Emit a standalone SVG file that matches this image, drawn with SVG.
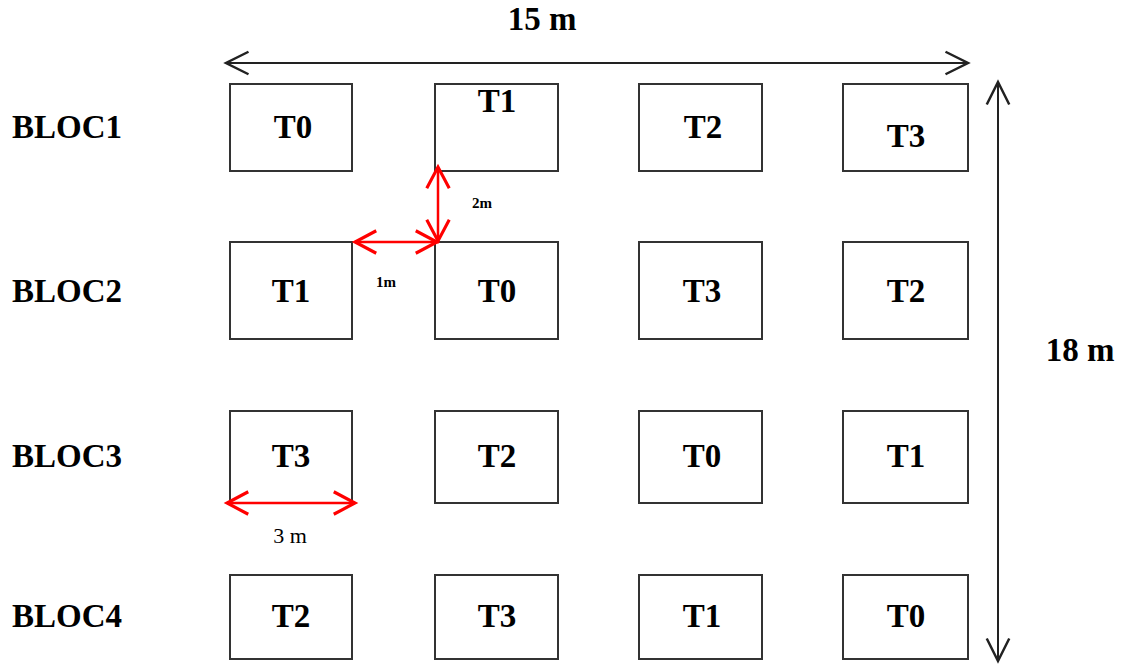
<svg xmlns="http://www.w3.org/2000/svg" width="1121" height="664" viewBox="0 0 1121 664">
<style>
.box{fill:#fff;stroke:#333;stroke-width:2}
.t{font-family:"Liberation Serif","Times New Roman",serif;font-weight:bold;font-size:33px;fill:#000;text-anchor:middle}
.bl{font-family:"Liberation Serif","Times New Roman",serif;font-weight:bold;font-size:33px;fill:#000}
.dim{stroke:#222;stroke-width:2;fill:none}
.red{stroke:#f00;stroke-width:2.5;fill:none}
.sm{font-family:"Liberation Serif","Times New Roman",serif;font-weight:bold;font-size:15px;fill:#000}
.nm{font-family:"Liberation Serif","Times New Roman",serif;font-size:22px;fill:#000;text-anchor:middle}
</style>
<defs>
<marker id="ak" markerUnits="userSpaceOnUse" markerWidth="30" markerHeight="30" viewBox="-22 -12 24 24" refX="0" refY="0" orient="auto-start-reverse" overflow="visible"><path d="M-18,-9 L0,0 L-18,9" fill="none" stroke="#222" stroke-width="2"/></marker>
<marker id="ar" markerUnits="userSpaceOnUse" markerWidth="30" markerHeight="30" viewBox="-22 -12 24 24" refX="0" refY="0" orient="auto-start-reverse" overflow="visible"><path d="M-17,-9 L0,0 L-17,9" fill="none" stroke="#f00" stroke-width="2.5"/></marker>
</defs>

<g id="labels">
<text class="bl" x="12" y="138">BLOC1</text>
<text class="bl" x="12" y="302">BLOC2</text>
<text class="bl" x="12" y="467">BLOC3</text>
<text class="bl" x="12" y="627">BLOC4</text>
<text class="t" x="542" y="30">15 m</text>
<text class="t" x="1080" y="361">18 m</text>
</g>

<g id="r1c1"><rect class="box" x="230" y="84" width="122" height="87"/><text class="t" x="293" y="138">T0</text></g>
<g id="r1c2"><rect class="box" x="435" y="84" width="123" height="87"/><text class="t" x="497" y="112">T1</text></g>
<g id="r1c3"><rect class="box" x="639" y="84" width="123" height="87"/><text class="t" x="703" y="138">T2</text></g>
<g id="r1c4"><rect class="box" x="843" y="84" width="125" height="87"/><text class="t" x="906" y="147">T3</text></g>

<g id="r2c1"><rect class="box" x="230" y="242" width="122" height="97"/><text class="t" x="291" y="302">T1</text></g>
<g id="r2c2"><rect class="box" x="435" y="242" width="123" height="97"/><text class="t" x="497" y="302">T0</text></g>
<g id="r2c3"><rect class="box" x="639" y="242" width="123" height="97"/><text class="t" x="702" y="302">T3</text></g>
<g id="r2c4"><rect class="box" x="843" y="242" width="125" height="97"/><text class="t" x="906" y="302">T2</text></g>

<g id="r3c1"><rect class="box" x="230" y="411" width="122" height="92"/><text class="t" x="291" y="467">T3</text></g>
<g id="r3c2"><rect class="box" x="435" y="411" width="123" height="92"/><text class="t" x="497" y="467">T2</text></g>
<g id="r3c3"><rect class="box" x="639" y="411" width="123" height="92"/><text class="t" x="702" y="467">T0</text></g>
<g id="r3c4"><rect class="box" x="843" y="411" width="125" height="92"/><text class="t" x="906" y="467">T1</text></g>

<g id="r4c1"><rect class="box" x="230" y="575" width="122" height="84"/><text class="t" x="291" y="627">T2</text></g>
<g id="r4c2"><rect class="box" x="435" y="575" width="123" height="84"/><text class="t" x="497" y="627">T3</text></g>
<g id="r4c3"><rect class="box" x="639" y="575" width="123" height="84"/><text class="t" x="702" y="627">T1</text></g>
<g id="r4c4"><rect class="box" x="843" y="575" width="125" height="84"/><text class="t" x="906" y="627">T0</text></g>

<g id="connectors">
<line class="dim" x1="226" y1="63" x2="968" y2="63" marker-start="url(#ak)" marker-end="url(#ak)"/>
<line class="dim" x1="998" y1="82" x2="998" y2="661" marker-start="url(#ak)" marker-end="url(#ak)"/>
<line class="red" x1="438" y1="167" x2="438" y2="241" marker-start="url(#ar)" marker-end="url(#ar)"/>
<line class="red" x1="355" y1="242" x2="437" y2="242" marker-start="url(#ar)" marker-end="url(#ar)"/>
<line class="red" x1="227" y1="503" x2="355" y2="503" marker-start="url(#ar)" marker-end="url(#ar)"/>
<text class="sm" x="472" y="208">2m</text>
<text class="sm" x="376" y="287">1m</text>
<text class="nm" x="290" y="543">3 m</text>
</g>
</svg>
